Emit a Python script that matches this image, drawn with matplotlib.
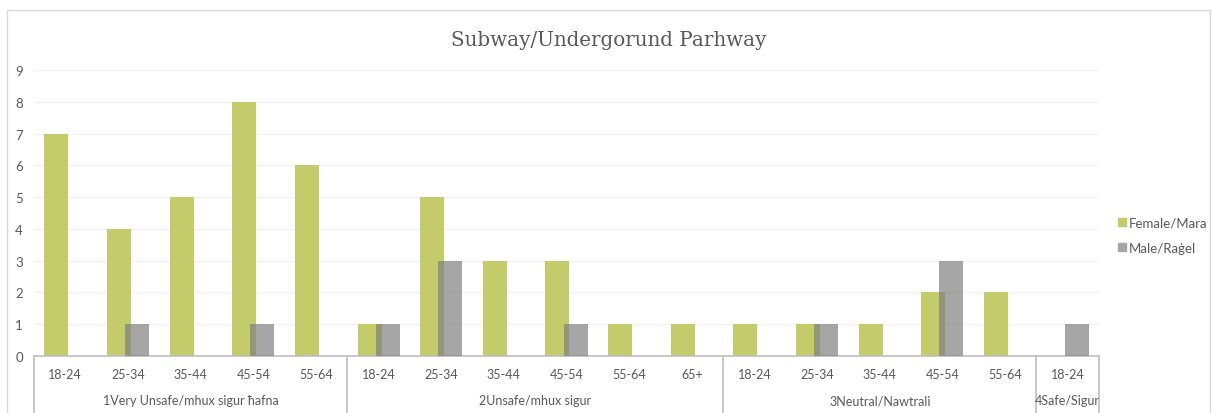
import numpy as np
import matplotlib
matplotlib.use("Agg")
import matplotlib.pyplot as plt
from matplotlib.patches import Rectangle
from matplotlib.lines import Line2D

# Data
groups = ["1Very Unsafe/mhux sigur ħafna", "2Unsafe/mhux sigur", "3Neutral/Nawtrali", "4Safe/Sigur"]
group_ages = [
    ["18-24", "25-34", "35-44", "45-54", "55-64"],
    ["18-24", "25-34", "35-44", "45-54", "55-64", "65+"],
    ["18-24", "25-34", "35-44", "45-54", "55-64"],
    ["18-24"],
]
female = [7, 4, 5, 8, 6,  1, 5, 3, 3, 1, 1,  1, 1, 1, 2, 2,  0]
male = [0, 1, 0, 1, 0,  1, 3, 0, 1, 0, 0,  0, 1, 0, 3, 0,  1]
series_names = ["Female/Mara", "Male/Raġel"]
title = "Subway/Undergorund Parhway"

green = "#C3CB6B"
grey = "#808080"
text_col = "#595959"

fig = plt.figure(figsize=(12.12, 4.14), dpi=100)
ax = fig.add_axes([34 / 1212, 57 / 414, 1065 / 1212, 286 / 414])

# chart frame
fig.patches.append(Rectangle((7 / 1212, -0.1), 1203 / 1212, 1.1 - 11 / 414,
                             transform=fig.transFigure, fill=False,
                             edgecolor="#D9D9D9", linewidth=1))

x = np.arange(len(female))
w = 0.383
off = 0.144
ax.bar(x - off, female, width=w, color=green, zorder=2)
ax.bar(x + off, male, width=w, color=grey, alpha=0.7, zorder=3)

ax.set_xlim(-0.5, len(female) - 0.5)
ax.set_ylim(0, 9)
ax.set_yticks(range(0, 10))
ax.yaxis.grid(True, color="#F2F2F2", linewidth=1)
ax.set_axisbelow(True)
for s in ["top", "right", "left"]:
    ax.spines[s].set_visible(False)
ax.spines["bottom"].set_color("#BFBFBF")
ax.spines["bottom"].set_linewidth(1.2)
ax.tick_params(axis="y", length=0, pad=8, labelsize=9.5, labelcolor=text_col)
ax.tick_params(axis="x", length=0)
ax.set_xticks([])
for lab in ax.get_yticklabels():
    lab.set_fontfamily("Lato")

# multi-level category axis
trans = ax.get_xaxis_transform()
pos = 0
bounds = [-0.5]
for g, ages in zip(groups, group_ages):
    for i, a in enumerate(ages):
        ax.text(pos + i, -0.063, a, transform=trans, ha="center", va="center",
                fontsize=9, color=text_col, family="Lato")
    ax.text(pos + (len(ages) - 1) / 2, -0.155, g, transform=trans, ha="center",
            va="center", fontsize=9, color=text_col, family="Lato")
    pos += len(ages)
    bounds.append(pos - 0.5)
for b in bounds:
    ax.plot([b, b], [0, -0.2], transform=trans, color="#BFBFBF",
            linewidth=1.2, clip_on=False)

fig.text(609 / 1212, 1 - 41 / 414, title, ha="center", va="center",
         fontsize=14.3, color=text_col, family="DejaVu Serif")

handles = [Line2D([], [], marker="s", linestyle="none", markersize=6,
                  color=green),
           Line2D([], [], marker="s", linestyle="none", markersize=6,
                  color="#A6A6A6")]
leg = fig.legend(handles, series_names, loc="center left",
                 bbox_to_anchor=(1106 / 1212, 1 - 236 / 414), frameon=False,
                 handletextpad=0.0, labelspacing=1.0, handlelength=1.0,
                 borderpad=0.2, prop={"family": "Lato", "size": 9.5})
for t in leg.get_texts():
    t.set_color(text_col)

fig.savefig("out.png", dpi=100)
